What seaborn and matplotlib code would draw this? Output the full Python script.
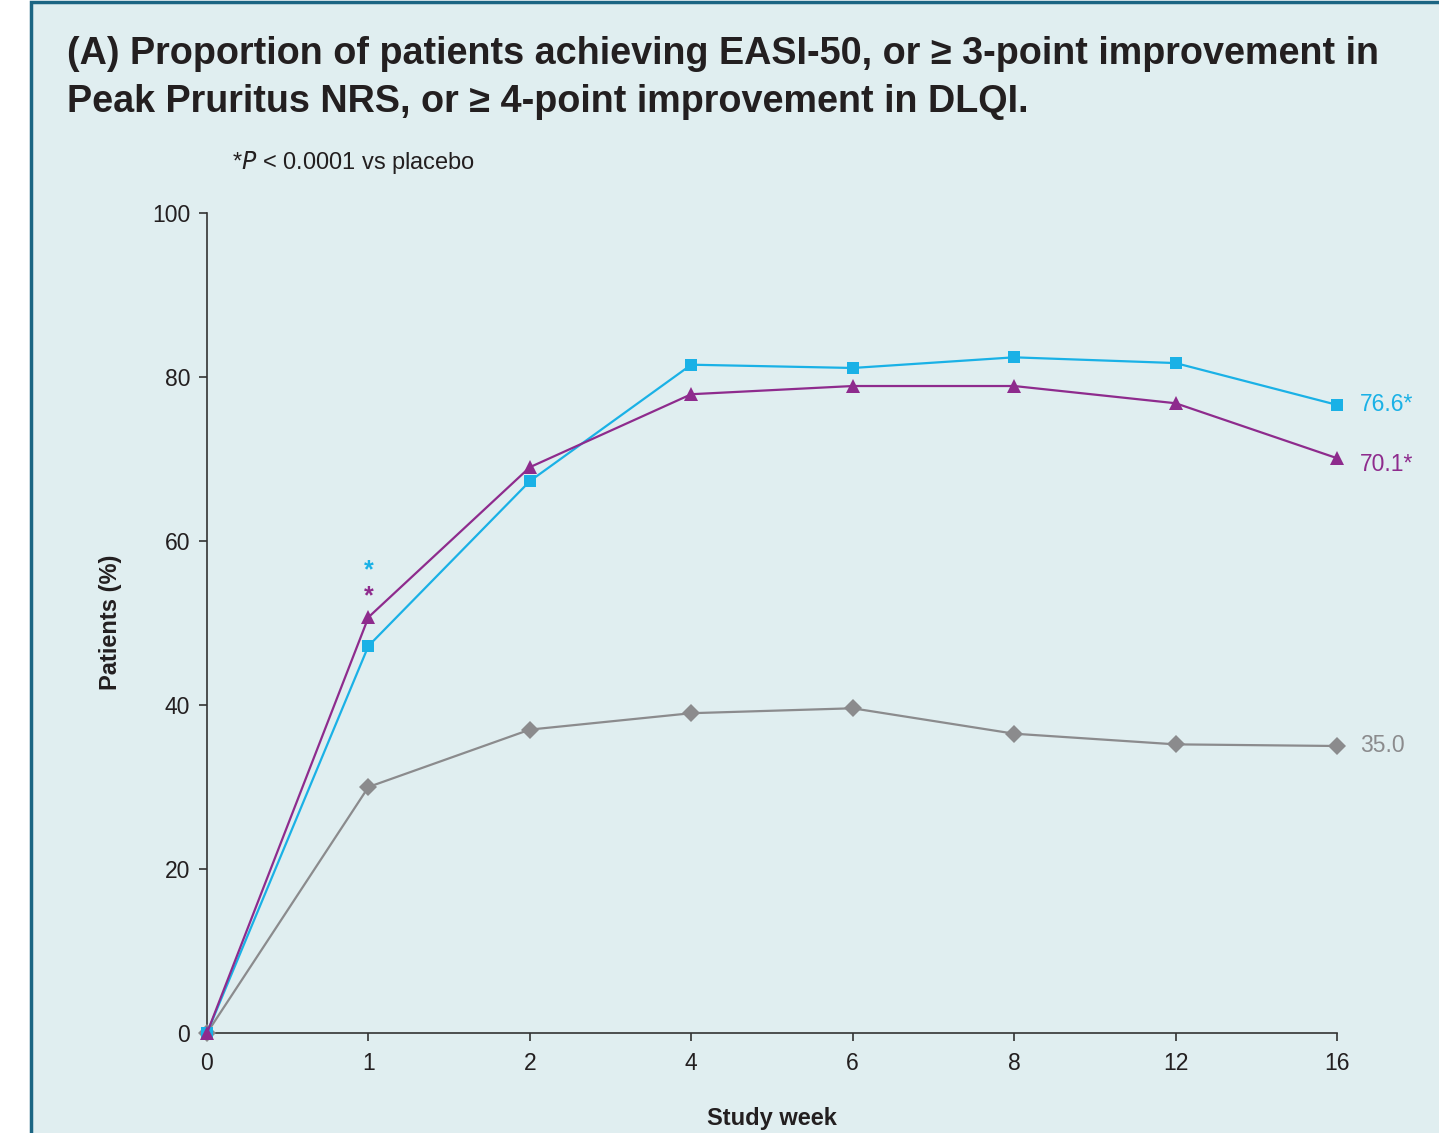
import matplotlib
matplotlib.use("Agg")
import matplotlib.pyplot as plt
import matplotlib.patches as mpatches
import pandas as pd
import seaborn as sns

# Data
weeks = ["0", "1", "2", "4", "6", "8", "12", "16"]
easi50 = [0, 47.2, 67.3, 81.5, 81.1, 82.4, 81.7, 76.6]
pruritus = [0, 50.7, 69.0, 77.9, 78.9, 78.9, 76.8, 70.1]
placebo = [0, 30.0, 37.0, 39.0, 39.6, 36.5, 35.2, 35.0]
end_labels = ["76.6*", "70.1*", "35.0"]

blue = "#1ab1e6"
purple = "#8e2b8d"
grey = "#8b8b8d"
bg = "#e0eef0"
frame = "#1b6583"
ink = "#231f20"

sns.set_theme(style="ticks")
plt.rcParams["font.family"] = ["Liberation Sans", "DejaVu Sans"]

fig = plt.figure(figsize=(14.39, 11.33), dpi=100)
fig.patch.set_facecolor("white")
fig.patches.append(mpatches.Rectangle((31 / 1439, -0.1), 1.2, 1 - 1.5 / 1133 + 0.1,
                                      transform=fig.transFigure, facecolor=bg,
                                      edgecolor=frame, linewidth=2.5, zorder=-5))

ax = fig.add_axes([207 / 1439, 1 - 1033 / 1133, (1337 - 207) / 1439, (1033 - 213) / 1133])
ax.set_facecolor("none")

pos = list(range(len(weeks)))
df = pd.DataFrame({"pos": pos * 3,
                   "value": placebo + easi50 + pruritus,
                   "group": ["placebo"] * 8 + ["easi"] * 8 + ["pruritus"] * 8})

styles = {"placebo": (grey, "D", 9),
          "easi": (blue, "s", 9),
          "pruritus": (purple, "^", 9.5)}
for g, (c, m, ms) in styles.items():
    sub = df[df["group"] == g]
    sns.lineplot(data=sub, x="pos", y="value", ax=ax, color=c, marker=m,
                 markersize=ms, markeredgewidth=0, linewidth=1.6, clip_on=False,
                 zorder=3)

ax.set_xlim(0, len(weeks) - 1)
ax.set_ylim(0, 100)
ax.set_xticks(pos)
ax.set_xticklabels(weeks)
ax.set_yticks([0, 20, 40, 60, 80, 100])
ax.tick_params(axis="both", labelsize=16.5, length=6, width=1.2, color="#333333",
               labelcolor=ink, pad=6)
ax.tick_params(axis="x", pad=8)
for s in ["top", "right"]:
    ax.spines[s].set_visible(False)
for s in ["left", "bottom"]:
    ax.spines[s].set_color("#333333")
    ax.spines[s].set_linewidth(1.2)
ax.set_xlabel("")
ax.set_ylabel("")

# End-point labels
last = len(weeks) - 1
for vals, lab, c, dy in zip([easi50, pruritus, placebo], end_labels,
                            [blue, purple, grey], [0, -6, 0]):
    ax.annotate(lab, (last, vals[-1]), xytext=(23, dy), textcoords="offset pixels",
                fontsize=16.5, color=c, va="center", ha="left", annotation_clip=False)

# Significance asterisks at week 1
ax.annotate("*", (1, easi50[1]), xytext=(0, 76), textcoords="offset pixels",
            fontsize=18, color=blue, ha="center", va="center", fontweight="bold")
ax.annotate("*", (1, pruritus[1]), xytext=(0, 21), textcoords="offset pixels",
            fontsize=18, color=purple, ha="center", va="center", fontweight="bold")

fig.text(67 / 1439, 1 - 54 / 1133,
         "(A) Proportion of patients achieving EASI-50, or \u2265 3-point improvement in",
         fontsize=27.2, fontweight="bold", color=ink, va="center", ha="left")
fig.text(67 / 1439, 1 - 102 / 1133,
         "Peak Pruritus NRS, or \u2265 4-point improvement in DLQI.",
         fontsize=27.2, fontweight="bold", color=ink, va="center", ha="left")
fig.text(232 / 1439, 1 - 163 / 1133, "*$\\mathit{P}$ < 0.0001 vs placebo", fontsize=17,
         color=ink, va="center", ha="left")
fig.text(110 / 1439, 1 - 622 / 1133, "Patients (%)", rotation=90, fontsize=17,
         fontweight="bold", color=ink, va="center", ha="center")
fig.text(772 / 1439, 1 - 1118 / 1133, "Study week", fontsize=17,
         fontweight="bold", color=ink, va="center", ha="center")

fig.savefig("out.png", dpi=100)
